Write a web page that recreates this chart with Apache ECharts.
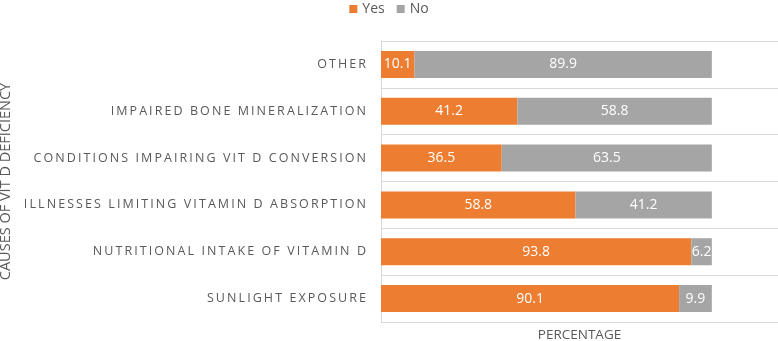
<!DOCTYPE html>
<html>
<head>
<meta charset="utf-8">
<script src="https://cdn.jsdelivr.net/npm/echarts@6/dist/echarts.min.js"></script>
<style>
  html, body { margin: 0; padding: 0; background: #fff; }
</style>
</head>
<body>
<div id="main" style="width: 778px;height:341px;"></div>
<script type="text/javascript">
  // categories, bottom to top
  var causes = [
    'Sunlight exposure',
    'Nutritional intake of vitamin D',
    'Illnesses limiting vitamin D absorption',
    'Conditions impairing vit D conversion',
    'Impaired bone mineralization',
    'Other'
  ];
  var yes_values = [90.1, 93.8, 58.8, 36.5, 41.2, 10.1];
  var no_values  = [9.9, 6.2, 41.2, 63.5, 58.8, 89.9];

  var fontName = '"Open Sans", "Liberation Sans", sans-serif';
  var myChart = echarts.init(document.getElementById('main'));

  option = {
    animation: false,
    textStyle: { fontFamily: fontName },
    legend: {
      data: ['Yes', 'No'],
      top: -3,
      left: 'center',
      itemWidth: 8,
      itemHeight: 8,
      itemGap: 12,
      icon: 'rect',
      textStyle: { color: '#595959', fontSize: 14, fontFamily: fontName }
    },
    grid: {
      left: 381,
      right: 0,
      top: 41,
      bottom: 19,
      outerBoundsMode: 'none'
    },
    xAxis: {
      type: 'value',
      min: 0,
      max: 120,
      axisLabel: { show: false },
      axisTick: { show: false },
      axisLine: { show: false },
      splitLine: { show: false },
      name: 'PERCENTAGE',
      nameLocation: 'middle',
      nameGap: 6,
      nameTextStyle: { color: '#595959', fontSize: 13.5, fontFamily: fontName }
    },
    yAxis: {
      type: 'category',
      data: causes,
      axisTick: { show: false },
      axisLine: { show: true, lineStyle: { color: '#d9d9d9' } },
      splitLine: { show: true, lineStyle: { color: '#d9d9d9' } },
      axisLabel: {
        margin: 15,
        color: '#595959',
        fontSize: 12.5,
        fontFamily: fontName,
        formatter: function (v) {
          return v.toUpperCase().split('').join('\u2009');
        }
      },
      name: 'CAUSES OF VIT D DEFICIENCY',
      nameLocation: 'middle',
      nameRotate: 90,
      nameGap: 364,
      nameTextStyle: { color: '#595959', fontSize: 14.5, fontFamily: fontName }
    },
    series: [
      {
        name: 'Yes',
        type: 'bar',
        stack: 'total',
        barWidth: 27,
        itemStyle: { color: '#ED7D31' },
        label: { show: true, position: 'inside', color: '#fff', fontSize: 14, fontFamily: fontName },
        data: yes_values
      },
      {
        name: 'No',
        type: 'bar',
        stack: 'total',
        barWidth: 27,
        itemStyle: { color: '#A5A5A5' },
        label: { show: true, position: 'inside', color: '#fff', fontSize: 14, fontFamily: fontName },
        data: no_values
      }
    ]
  };

  myChart.setOption(option);
</script>
</body>
</html>
